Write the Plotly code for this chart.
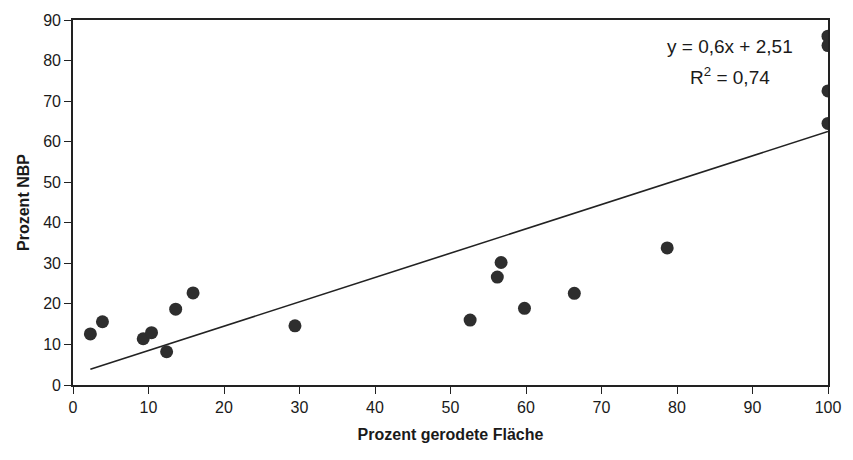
import plotly.graph_objects as go

# data
x_cleared = [2.3, 3.9, 9.3, 10.4, 12.4, 13.6, 15.9, 29.4, 52.6, 56.2, 56.7, 59.8, 66.4, 78.7, 100, 100, 100, 100]
y_nbp = [12.6, 15.6, 11.4, 12.9, 8.2, 18.7, 22.7, 14.6, 16.0, 26.6, 30.2, 18.9, 22.6, 33.8, 86.0, 83.7, 72.5, 64.5]

slope = 0.6
intercept = 2.51
r2 = 0.74

x_ticks = list(range(0, 101, 10))
y_ticks = list(range(0, 91, 10))

line_x = [min(x_cleared), max(x_cleared)]
line_y = [slope * v + intercept for v in line_x]

fig = go.Figure()
fig.add_trace(go.Scatter(x=line_x, y=line_y, mode="lines",
                         line=dict(color="#222222", width=1.6), hoverinfo="skip"))
fig.add_trace(go.Scatter(x=x_cleared, y=y_nbp, mode="markers",
                         marker=dict(color="#2e2e2e", size=13, line=dict(width=0))))

font = dict(family="Liberation Sans, Arial, sans-serif", size=16, color="#1a1a1a")

fig.update_layout(
    width=853, height=460,
    margin=dict(l=73, r=24, t=15, b=75),
    paper_bgcolor="white", plot_bgcolor="white",
    showlegend=False,
    font=font,
    xaxis=dict(range=[0, 100], tickvals=x_ticks, ticks="outside", ticklen=7,
               tickcolor="#222", tickwidth=1.3,
               showline=True, linecolor="#222", linewidth=1.6, mirror=True,
               showgrid=False, zeroline=False,
               tickfont=dict(size=16),
               title=dict(text="<b>Prozent gerodete Fläche</b>", standoff=14,
                          font=dict(size=16))),
    yaxis=dict(range=[0, 90], tickvals=y_ticks, ticks="outside", ticklen=7,
               tickcolor="#222", tickwidth=1.3,
               showline=True, linecolor="#222", linewidth=1.6, mirror=True,
               showgrid=False, zeroline=False,
               tickfont=dict(size=16),
               title=dict(text="<b>Prozent NBP</b>", standoff=10,
                          font=dict(size=16))),
)

def fmt(v):
    return str(v).replace('.', ',')

fig.add_annotation(
    x=0.870, y=0.927, xref="paper", yref="paper", showarrow=False,
    xanchor="center", yanchor="middle",
    text=f"y = {fmt(slope)}x + {fmt(intercept)}",
    font=dict(size=19, color="#1a1a1a"),
)
fig.add_annotation(
    x=0.870, y=0.846, xref="paper", yref="paper", showarrow=False,
    xanchor="center", yanchor="middle",
    text=f"R<sup>2</sup> = {fmt(r2)}",
    font=dict(size=19, color="#1a1a1a"),
)

fig.write_html("out.html")
